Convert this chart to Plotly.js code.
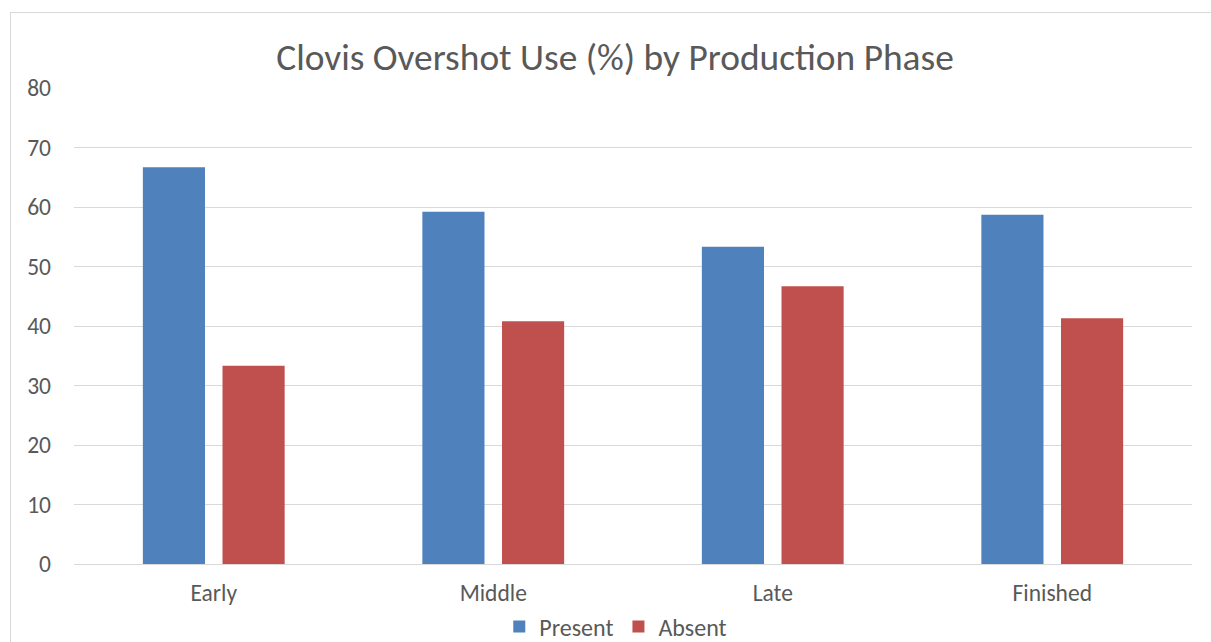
<!DOCTYPE html>
<html><head><meta charset="utf-8">
<script src="https://cdn.plot.ly/plotly-3.0.1.min.js"></script>
<style>
html,body{margin:0;padding:0;background:#fff;}
#frame{position:absolute;left:10px;top:12px;width:1210px;height:640px;border-left:1px solid #d9d9d9;border-top:1px solid #d9d9d9;}
#chart{position:absolute;left:0;top:0;width:1211px;height:642px;}
</style></head>
<body>
<div id="frame"></div>
<div id="chart"></div>
<script>
const categories = ["Early", "Middle", "Late", "Finished"];
const presentValues = [66.7, 59.2, 53.3, 58.7];
const absentValues = [33.3, 40.8, 46.7, 41.3];
const seriesNames = ["Present", "Absent"];

const font = "Calibri, Carlito, 'Open Sans', 'Liberation Sans', sans-serif";
const data = [
  {type:'bar', name:seriesNames[0], x:categories, y:presentValues, marker:{color:'#4F81BD'}, hoverinfo:'x+y'},
  {type:'bar', name:seriesNames[1], x:categories, y:absentValues, marker:{color:'#C0504D'}, hoverinfo:'x+y'}
];
const layout = {
  width:1211, height:642,
  paper_bgcolor:'rgba(0,0,0,0)', plot_bgcolor:'rgba(0,0,0,0)',
  margin:{l:74, r:19, t:88, b:78},
  font:{family:font, color:'#595959', size:23},
  title:{text:'Clovis Overshot Use (%) by Production Phase', font:{size:37.4, color:'#595959', family:font}, x:615/1211, xanchor:'center', y:1-57/642, yanchor:'middle'},
  barmode:'group', bargap:0.43, bargroupgap:0.22,
  xaxis:{showgrid:false, zeroline:false, showline:false, ticks:'', tickfont:{size:23.5, color:'#595959'}, ticklabelstandoff:12, automargin:false},
  yaxis:{range:[0,80], dtick:10, showgrid:true, gridcolor:'#d9d9d9', gridwidth:1.3, zeroline:true, zerolinecolor:'#d9d9d9', zerolinewidth:1.3, showline:false, ticks:'', tickfont:{size:23.5, color:'#595959'}, ticklabelstandoff:22, automargin:false},
  legend:{orientation:'h', x:0.4846, xanchor:'center', xref:'paper', y:1-627/642, yanchor:'middle', yref:'container', font:{size:24, color:'#595959'}, itemwidth:20, traceorder:'normal'},
  showlegend:true
};
Plotly.newPlot('chart', data, layout, {displayModeBar:false});
</script>
</body></html>
